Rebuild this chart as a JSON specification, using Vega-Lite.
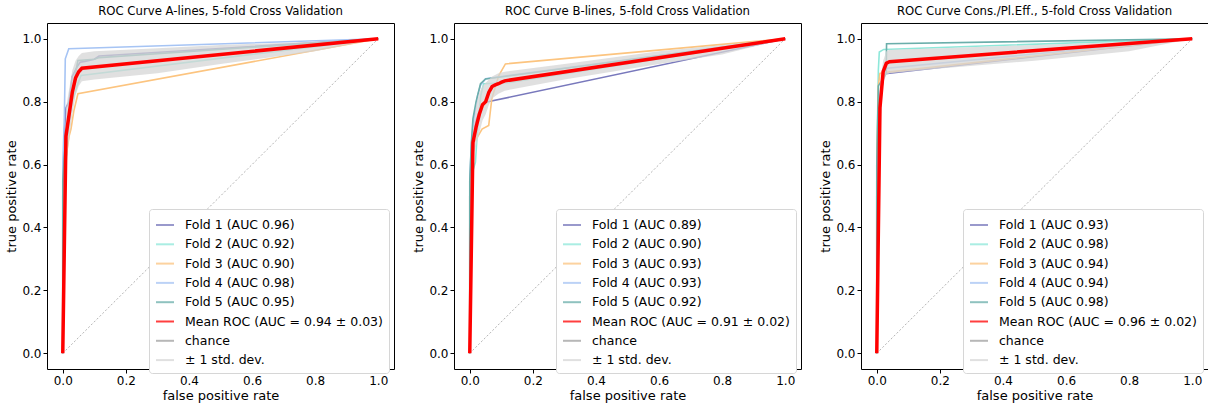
{
  "$schema": "https://vega.github.io/schema/vega-lite/v6.json",
  "config": {
    "font": "DejaVu Sans",
    "view": {"stroke": "black", "strokeWidth": 1},
    "title": {"fontSize": 11.7, "fontWeight": "normal", "color": "black", "offset": 5},
    "axis": {"grid": false, "domain": false, "tickColor": "black", "tickSize": 4, "labelFontSize": 12, "labelColor": "black", "titleFontSize": 13, "titleFontWeight": "normal", "titleColor": "black", "labelPadding": 2, "titlePadding": 3},
    "legend": {"orient": "none", "legendX": 102, "legendY": 186, "fillColor": "white", "strokeColor": "#d6d6d6", "cornerRadius": 3, "padding": 6, "labelFontSize": 12.5, "labelColor": "black", "labelLimit": 400, "rowPadding": 2.3, "symbolType": "stroke", "symbolSize": 324, "symbolStrokeWidth": 2, "labelOffset": 10}
  },
  "datasets": {
    "a_lines": [
      {"series": "Fold 1 (AUC 0.96)", "fpr": 0, "tpr": 0}, {"series": "Fold 1 (AUC 0.96)", "fpr": 0, "tpr": 0.5}, {"series": "Fold 1 (AUC 0.96)", "fpr": 0.005, "tpr": 0.7}, {"series": "Fold 1 (AUC 0.96)", "fpr": 0.01, "tpr": 0.78}, {"series": "Fold 1 (AUC 0.96)", "fpr": 0.02, "tpr": 0.8}, {"series": "Fold 1 (AUC 0.96)", "fpr": 0.03, "tpr": 0.88}, {"series": "Fold 1 (AUC 0.96)", "fpr": 0.045, "tpr": 0.91}, {"series": "Fold 1 (AUC 0.96)", "fpr": 0.055, "tpr": 0.925}, {"series": "Fold 1 (AUC 0.96)", "fpr": 0.07, "tpr": 0.928}, {"series": "Fold 1 (AUC 0.96)", "fpr": 0.1, "tpr": 0.935}, {"series": "Fold 1 (AUC 0.96)", "fpr": 0.115, "tpr": 0.945}, {"series": "Fold 1 (AUC 0.96)", "fpr": 1, "tpr": 1},
      {"series": "Fold 2 (AUC 0.92)", "fpr": 0, "tpr": 0}, {"series": "Fold 2 (AUC 0.92)", "fpr": 0, "tpr": 0.45}, {"series": "Fold 2 (AUC 0.92)", "fpr": 0.01, "tpr": 0.6}, {"series": "Fold 2 (AUC 0.92)", "fpr": 0.02, "tpr": 0.74}, {"series": "Fold 2 (AUC 0.92)", "fpr": 0.03, "tpr": 0.8}, {"series": "Fold 2 (AUC 0.92)", "fpr": 0.045, "tpr": 0.85}, {"series": "Fold 2 (AUC 0.92)", "fpr": 0.058, "tpr": 0.883}, {"series": "Fold 2 (AUC 0.92)", "fpr": 1, "tpr": 1},
      {"series": "Fold 3 (AUC 0.90)", "fpr": 0, "tpr": 0}, {"series": "Fold 3 (AUC 0.90)", "fpr": 0, "tpr": 0.4}, {"series": "Fold 3 (AUC 0.90)", "fpr": 0.01, "tpr": 0.62}, {"series": "Fold 3 (AUC 0.90)", "fpr": 0.02, "tpr": 0.69}, {"series": "Fold 3 (AUC 0.90)", "fpr": 0.026, "tpr": 0.713}, {"series": "Fold 3 (AUC 0.90)", "fpr": 0.035, "tpr": 0.77}, {"series": "Fold 3 (AUC 0.90)", "fpr": 0.048, "tpr": 0.825}, {"series": "Fold 3 (AUC 0.90)", "fpr": 1, "tpr": 1},
      {"series": "Fold 4 (AUC 0.98)", "fpr": 0, "tpr": 0}, {"series": "Fold 4 (AUC 0.98)", "fpr": 0, "tpr": 0.6}, {"series": "Fold 4 (AUC 0.98)", "fpr": 0.005, "tpr": 0.75}, {"series": "Fold 4 (AUC 0.98)", "fpr": 0.008, "tpr": 0.936}, {"series": "Fold 4 (AUC 0.98)", "fpr": 0.019, "tpr": 0.968}, {"series": "Fold 4 (AUC 0.98)", "fpr": 1, "tpr": 1},
      {"series": "Fold 5 (AUC 0.95)", "fpr": 0, "tpr": 0}, {"series": "Fold 5 (AUC 0.95)", "fpr": 0, "tpr": 0.55}, {"series": "Fold 5 (AUC 0.95)", "fpr": 0.01, "tpr": 0.7}, {"series": "Fold 5 (AUC 0.95)", "fpr": 0.02, "tpr": 0.76}, {"series": "Fold 5 (AUC 0.95)", "fpr": 0.035, "tpr": 0.86}, {"series": "Fold 5 (AUC 0.95)", "fpr": 0.048, "tpr": 0.931}, {"series": "Fold 5 (AUC 0.95)", "fpr": 0.1, "tpr": 0.935}, {"series": "Fold 5 (AUC 0.95)", "fpr": 0.116, "tpr": 0.94}, {"series": "Fold 5 (AUC 0.95)", "fpr": 1, "tpr": 1},
      {"series": "Mean ROC (AUC = 0.94 ± 0.03)", "fpr": 0, "tpr": 0}, {"series": "Mean ROC (AUC = 0.94 ± 0.03)", "fpr": 0.0101, "tpr": 0.69}, {"series": "Mean ROC (AUC = 0.94 ± 0.03)", "fpr": 0.0202, "tpr": 0.76}, {"series": "Mean ROC (AUC = 0.94 ± 0.03)", "fpr": 0.0303, "tpr": 0.83}, {"series": "Mean ROC (AUC = 0.94 ± 0.03)", "fpr": 0.0404, "tpr": 0.875}, {"series": "Mean ROC (AUC = 0.94 ± 0.03)", "fpr": 0.0505, "tpr": 0.895}, {"series": "Mean ROC (AUC = 0.94 ± 0.03)", "fpr": 0.0606, "tpr": 0.906}, {"series": "Mean ROC (AUC = 0.94 ± 0.03)", "fpr": 1, "tpr": 1},
      {"series": "chance", "fpr": 0, "tpr": 0}, {"series": "chance", "fpr": 1, "tpr": 1}
    ],
    "a_band": [
      {"series": "± 1 std. dev.", "fpr": 0, "lo": 0, "hi": 0}, {"series": "± 1 std. dev.", "fpr": 0.0101, "lo": 0.6, "hi": 0.78}, {"series": "± 1 std. dev.", "fpr": 0.0202, "lo": 0.68, "hi": 0.84}, {"series": "± 1 std. dev.", "fpr": 0.0303, "lo": 0.76, "hi": 0.9}, {"series": "± 1 std. dev.", "fpr": 0.0404, "lo": 0.82, "hi": 0.93}, {"series": "± 1 std. dev.", "fpr": 0.0505, "lo": 0.85, "hi": 0.945}, {"series": "± 1 std. dev.", "fpr": 0.0606, "lo": 0.865, "hi": 0.955}, {"series": "± 1 std. dev.", "fpr": 0.1, "lo": 0.87, "hi": 0.96}, {"series": "± 1 std. dev.", "fpr": 0.3, "lo": 0.89, "hi": 0.97}, {"series": "± 1 std. dev.", "fpr": 0.5, "lo": 0.92, "hi": 0.98}, {"series": "± 1 std. dev.", "fpr": 0.8, "lo": 0.96, "hi": 0.99}, {"series": "± 1 std. dev.", "fpr": 1, "lo": 1, "hi": 1}
    ],
    "b_lines": [
      {"series": "Fold 1 (AUC 0.89)", "fpr": 0, "tpr": 0}, {"series": "Fold 1 (AUC 0.89)", "fpr": 0, "tpr": 0.5}, {"series": "Fold 1 (AUC 0.89)", "fpr": 0.005, "tpr": 0.63}, {"series": "Fold 1 (AUC 0.89)", "fpr": 0.01, "tpr": 0.68}, {"series": "Fold 1 (AUC 0.89)", "fpr": 0.02, "tpr": 0.74}, {"series": "Fold 1 (AUC 0.89)", "fpr": 0.035, "tpr": 0.785}, {"series": "Fold 1 (AUC 0.89)", "fpr": 0.05, "tpr": 0.798}, {"series": "Fold 1 (AUC 0.89)", "fpr": 1, "tpr": 1},
      {"series": "Fold 2 (AUC 0.90)", "fpr": 0, "tpr": 0}, {"series": "Fold 2 (AUC 0.90)", "fpr": 0, "tpr": 0.4}, {"series": "Fold 2 (AUC 0.90)", "fpr": 0.01, "tpr": 0.58}, {"series": "Fold 2 (AUC 0.90)", "fpr": 0.018, "tpr": 0.608}, {"series": "Fold 2 (AUC 0.90)", "fpr": 0.025, "tpr": 0.72}, {"series": "Fold 2 (AUC 0.90)", "fpr": 0.035, "tpr": 0.82}, {"series": "Fold 2 (AUC 0.90)", "fpr": 0.044, "tpr": 0.857}, {"series": "Fold 2 (AUC 0.90)", "fpr": 0.12, "tpr": 0.86}, {"series": "Fold 2 (AUC 0.90)", "fpr": 1, "tpr": 1},
      {"series": "Fold 3 (AUC 0.93)", "fpr": 0, "tpr": 0}, {"series": "Fold 3 (AUC 0.93)", "fpr": 0, "tpr": 0.5}, {"series": "Fold 3 (AUC 0.93)", "fpr": 0.007, "tpr": 0.66}, {"series": "Fold 3 (AUC 0.93)", "fpr": 0.02, "tpr": 0.68}, {"series": "Fold 3 (AUC 0.93)", "fpr": 0.039, "tpr": 0.713}, {"series": "Fold 3 (AUC 0.93)", "fpr": 0.06, "tpr": 0.724}, {"series": "Fold 3 (AUC 0.93)", "fpr": 0.07, "tpr": 0.81}, {"series": "Fold 3 (AUC 0.93)", "fpr": 0.092, "tpr": 0.883}, {"series": "Fold 3 (AUC 0.93)", "fpr": 0.113, "tpr": 0.92}, {"series": "Fold 3 (AUC 0.93)", "fpr": 1, "tpr": 1},
      {"series": "Fold 4 (AUC 0.93)", "fpr": 0, "tpr": 0}, {"series": "Fold 4 (AUC 0.93)", "fpr": 0, "tpr": 0.55}, {"series": "Fold 4 (AUC 0.93)", "fpr": 0.005, "tpr": 0.66}, {"series": "Fold 4 (AUC 0.93)", "fpr": 0.013, "tpr": 0.745}, {"series": "Fold 4 (AUC 0.93)", "fpr": 0.025, "tpr": 0.82}, {"series": "Fold 4 (AUC 0.93)", "fpr": 0.034, "tpr": 0.852}, {"series": "Fold 4 (AUC 0.93)", "fpr": 0.05, "tpr": 0.873}, {"series": "Fold 4 (AUC 0.93)", "fpr": 1, "tpr": 1},
      {"series": "Fold 5 (AUC 0.92)", "fpr": 0, "tpr": 0}, {"series": "Fold 5 (AUC 0.92)", "fpr": 0, "tpr": 0.55}, {"series": "Fold 5 (AUC 0.92)", "fpr": 0.005, "tpr": 0.67}, {"series": "Fold 5 (AUC 0.92)", "fpr": 0.01, "tpr": 0.745}, {"series": "Fold 5 (AUC 0.92)", "fpr": 0.02, "tpr": 0.8}, {"series": "Fold 5 (AUC 0.92)", "fpr": 0.034, "tpr": 0.857}, {"series": "Fold 5 (AUC 0.92)", "fpr": 0.05, "tpr": 0.872}, {"series": "Fold 5 (AUC 0.92)", "fpr": 1, "tpr": 1},
      {"series": "Mean ROC (AUC = 0.91 ± 0.02)", "fpr": 0, "tpr": 0}, {"series": "Mean ROC (AUC = 0.91 ± 0.02)", "fpr": 0.0101, "tpr": 0.67}, {"series": "Mean ROC (AUC = 0.91 ± 0.02)", "fpr": 0.0202, "tpr": 0.72}, {"series": "Mean ROC (AUC = 0.91 ± 0.02)", "fpr": 0.0303, "tpr": 0.76}, {"series": "Mean ROC (AUC = 0.91 ± 0.02)", "fpr": 0.0404, "tpr": 0.79}, {"series": "Mean ROC (AUC = 0.91 ± 0.02)", "fpr": 0.0505, "tpr": 0.8}, {"series": "Mean ROC (AUC = 0.91 ± 0.02)", "fpr": 0.0606, "tpr": 0.83}, {"series": "Mean ROC (AUC = 0.91 ± 0.02)", "fpr": 0.0707, "tpr": 0.848}, {"series": "Mean ROC (AUC = 0.91 ± 0.02)", "fpr": 0.0808, "tpr": 0.853}, {"series": "Mean ROC (AUC = 0.91 ± 0.02)", "fpr": 0.0909, "tpr": 0.857}, {"series": "Mean ROC (AUC = 0.91 ± 0.02)", "fpr": 0.101, "tpr": 0.862}, {"series": "Mean ROC (AUC = 0.91 ± 0.02)", "fpr": 0.111, "tpr": 0.866}, {"series": "Mean ROC (AUC = 0.91 ± 0.02)", "fpr": 1, "tpr": 1},
      {"series": "chance", "fpr": 0, "tpr": 0}, {"series": "chance", "fpr": 1, "tpr": 1}
    ],
    "b_band": [
      {"series": "± 1 std. dev.", "fpr": 0, "lo": 0, "hi": 0}, {"series": "± 1 std. dev.", "fpr": 0.0101, "lo": 0.63, "hi": 0.71}, {"series": "± 1 std. dev.", "fpr": 0.0202, "lo": 0.66, "hi": 0.79}, {"series": "± 1 std. dev.", "fpr": 0.0303, "lo": 0.7, "hi": 0.83}, {"series": "± 1 std. dev.", "fpr": 0.0404, "lo": 0.74, "hi": 0.85}, {"series": "± 1 std. dev.", "fpr": 0.0505, "lo": 0.76, "hi": 0.86}, {"series": "± 1 std. dev.", "fpr": 0.0606, "lo": 0.79, "hi": 0.87}, {"series": "± 1 std. dev.", "fpr": 0.0707, "lo": 0.81, "hi": 0.88}, {"series": "± 1 std. dev.", "fpr": 0.0909, "lo": 0.825, "hi": 0.89}, {"series": "± 1 std. dev.", "fpr": 0.111, "lo": 0.835, "hi": 0.895}, {"series": "± 1 std. dev.", "fpr": 0.3, "lo": 0.87, "hi": 0.92}, {"series": "± 1 std. dev.", "fpr": 0.6, "lo": 0.92, "hi": 0.96}, {"series": "± 1 std. dev.", "fpr": 0.8, "lo": 0.95, "hi": 0.98}, {"series": "± 1 std. dev.", "fpr": 1, "lo": 1, "hi": 1}
    ],
    "c_lines": [
      {"series": "Fold 1 (AUC 0.93)", "fpr": 0, "tpr": 0}, {"series": "Fold 1 (AUC 0.93)", "fpr": 0, "tpr": 0.5}, {"series": "Fold 1 (AUC 0.93)", "fpr": 0.01, "tpr": 0.8}, {"series": "Fold 1 (AUC 0.93)", "fpr": 0.02, "tpr": 0.87}, {"series": "Fold 1 (AUC 0.93)", "fpr": 0.027, "tpr": 0.889}, {"series": "Fold 1 (AUC 0.93)", "fpr": 1, "tpr": 1},
      {"series": "Fold 2 (AUC 0.98)", "fpr": 0, "tpr": 0}, {"series": "Fold 2 (AUC 0.98)", "fpr": 0, "tpr": 0.6}, {"series": "Fold 2 (AUC 0.98)", "fpr": 0.005, "tpr": 0.9}, {"series": "Fold 2 (AUC 0.98)", "fpr": 0.008, "tpr": 0.958}, {"series": "Fold 2 (AUC 0.98)", "fpr": 0.022, "tpr": 0.966}, {"series": "Fold 2 (AUC 0.98)", "fpr": 1, "tpr": 1},
      {"series": "Fold 3 (AUC 0.94)", "fpr": 0, "tpr": 0}, {"series": "Fold 3 (AUC 0.94)", "fpr": 0, "tpr": 0.55}, {"series": "Fold 3 (AUC 0.94)", "fpr": 0.005, "tpr": 0.85}, {"series": "Fold 3 (AUC 0.94)", "fpr": 0.01, "tpr": 0.89}, {"series": "Fold 3 (AUC 0.94)", "fpr": 0.027, "tpr": 0.893}, {"series": "Fold 3 (AUC 0.94)", "fpr": 1, "tpr": 1},
      {"series": "Fold 4 (AUC 0.94)", "fpr": 0, "tpr": 0}, {"series": "Fold 4 (AUC 0.94)", "fpr": 0, "tpr": 0.55}, {"series": "Fold 4 (AUC 0.94)", "fpr": 0.01, "tpr": 0.82}, {"series": "Fold 4 (AUC 0.94)", "fpr": 0.02, "tpr": 0.89}, {"series": "Fold 4 (AUC 0.94)", "fpr": 0.033, "tpr": 0.906}, {"series": "Fold 4 (AUC 0.94)", "fpr": 1, "tpr": 1},
      {"series": "Fold 5 (AUC 0.98)", "fpr": 0, "tpr": 0}, {"series": "Fold 5 (AUC 0.98)", "fpr": 0, "tpr": 0.6}, {"series": "Fold 5 (AUC 0.98)", "fpr": 0.005, "tpr": 0.85}, {"series": "Fold 5 (AUC 0.98)", "fpr": 0.03, "tpr": 0.89}, {"series": "Fold 5 (AUC 0.98)", "fpr": 0.031, "tpr": 0.984}, {"series": "Fold 5 (AUC 0.98)", "fpr": 1, "tpr": 1},
      {"series": "Mean ROC (AUC = 0.96 ± 0.02)", "fpr": 0, "tpr": 0}, {"series": "Mean ROC (AUC = 0.96 ± 0.02)", "fpr": 0.0101, "tpr": 0.78}, {"series": "Mean ROC (AUC = 0.96 ± 0.02)", "fpr": 0.0202, "tpr": 0.895}, {"series": "Mean ROC (AUC = 0.96 ± 0.02)", "fpr": 0.0303, "tpr": 0.922}, {"series": "Mean ROC (AUC = 0.96 ± 0.02)", "fpr": 0.0404, "tpr": 0.927}, {"series": "Mean ROC (AUC = 0.96 ± 0.02)", "fpr": 1, "tpr": 1},
      {"series": "chance", "fpr": 0, "tpr": 0}, {"series": "chance", "fpr": 1, "tpr": 1}
    ],
    "c_band": [
      {"series": "± 1 std. dev.", "fpr": 0, "lo": 0, "hi": 0}, {"series": "± 1 std. dev.", "fpr": 0.0101, "lo": 0.7, "hi": 0.86}, {"series": "± 1 std. dev.", "fpr": 0.0202, "lo": 0.86, "hi": 0.93}, {"series": "± 1 std. dev.", "fpr": 0.0303, "lo": 0.885, "hi": 0.96}, {"series": "± 1 std. dev.", "fpr": 0.0404, "lo": 0.89, "hi": 0.965}, {"series": "± 1 std. dev.", "fpr": 0.2, "lo": 0.905, "hi": 0.97}, {"series": "± 1 std. dev.", "fpr": 0.5, "lo": 0.93, "hi": 0.98}, {"series": "± 1 std. dev.", "fpr": 0.8, "lo": 0.96, "hi": 0.99}, {"series": "± 1 std. dev.", "fpr": 1, "lo": 1, "hi": 1}
    ]
  },
  "hconcat": [
    {
      "title": "ROC Curve A-lines, 5-fold Cross Validation",
      "width": 347, "height": 346,
      "layer": [
        {"data": {"name": "a_lines"}, "transform": [{"filter": "indexof(datum.series,'Fold')===0"}], "mark": {"type": "line", "strokeWidth": 1.6},
         "encoding": {
           "x": {"field": "fpr", "type": "quantitative", "scale": {"domain": [-0.05, 1.05], "nice": false, "zero": false}, "axis": {"values": [0, 0.2, 0.4, 0.6, 0.8, 1.0], "format": ".1f", "title": "false positive rate"}},
           "y": {"field": "tpr", "type": "quantitative", "scale": {"domain": [-0.05, 1.05], "nice": false, "zero": false}, "axis": {"values": [0, 0.2, 0.4, 0.6, 0.8, 1.0], "format": ".1f", "title": "true positive rate"}},
           "color": {"field": "series", "type": "nominal", "title": null,
             "scale": {"domain": ["Fold 1 (AUC 0.96)", "Fold 2 (AUC 0.92)", "Fold 3 (AUC 0.90)", "Fold 4 (AUC 0.98)", "Fold 5 (AUC 0.95)", "Mean ROC (AUC = 0.94 ± 0.03)", "chance", "± 1 std. dev."],
                       "range": ["#7878bc", "#8ee8da", "#fcc47f", "#a6c4f4", "#6aaeaa", "#ff0000", "#a0a0a0", "#d6d6d6"]}
           }}},
        {"data": {"name": "a_lines"}, "transform": [{"filter": "datum.series==='chance'"}], "mark": {"type": "line", "strokeWidth": 0.8, "strokeDash": [2, 2]},
         "encoding": {"x": {"field": "fpr", "type": "quantitative"}, "y": {"field": "tpr", "type": "quantitative"}, "color": {"field": "series", "type": "nominal"}}},
        {"data": {"name": "a_band"}, "mark": {"type": "area", "opacity": 0.75},
         "encoding": {"x": {"field": "fpr", "type": "quantitative"}, "y": {"field": "lo", "type": "quantitative"}, "y2": {"field": "hi"}, "color": {"field": "series", "type": "nominal"}}},
        {"data": {"name": "a_lines"}, "transform": [{"filter": "indexof(datum.series,'Mean')===0"}], "mark": {"type": "line", "strokeWidth": 3.5},
         "encoding": {"x": {"field": "fpr", "type": "quantitative"}, "y": {"field": "tpr", "type": "quantitative"}, "color": {"field": "series", "type": "nominal"}}}
      ]
    },
    {
      "title": "ROC Curve B-lines, 5-fold Cross Validation",
      "width": 347, "height": 346,
      "layer": [
        {"data": {"name": "b_lines"}, "transform": [{"filter": "indexof(datum.series,'Fold')===0"}], "mark": {"type": "line", "strokeWidth": 1.6},
         "encoding": {
           "x": {"field": "fpr", "type": "quantitative", "scale": {"domain": [-0.05, 1.05], "nice": false, "zero": false}, "axis": {"values": [0, 0.2, 0.4, 0.6, 0.8, 1.0], "format": ".1f", "title": "false positive rate"}},
           "y": {"field": "tpr", "type": "quantitative", "scale": {"domain": [-0.05, 1.05], "nice": false, "zero": false}, "axis": {"values": [0, 0.2, 0.4, 0.6, 0.8, 1.0], "format": ".1f", "title": "true positive rate"}},
           "color": {"field": "series", "type": "nominal", "title": null,
             "scale": {"domain": ["Fold 1 (AUC 0.89)", "Fold 2 (AUC 0.90)", "Fold 3 (AUC 0.93)", "Fold 4 (AUC 0.93)", "Fold 5 (AUC 0.92)", "Mean ROC (AUC = 0.91 ± 0.02)", "chance", "± 1 std. dev."],
                       "range": ["#7878bc", "#8ee8da", "#fcc47f", "#a6c4f4", "#6aaeaa", "#ff0000", "#a0a0a0", "#d6d6d6"]}
           }}},
        {"data": {"name": "b_lines"}, "transform": [{"filter": "datum.series==='chance'"}], "mark": {"type": "line", "strokeWidth": 0.8, "strokeDash": [2, 2]},
         "encoding": {"x": {"field": "fpr", "type": "quantitative"}, "y": {"field": "tpr", "type": "quantitative"}, "color": {"field": "series", "type": "nominal"}}},
        {"data": {"name": "b_band"}, "mark": {"type": "area", "opacity": 0.75},
         "encoding": {"x": {"field": "fpr", "type": "quantitative"}, "y": {"field": "lo", "type": "quantitative"}, "y2": {"field": "hi"}, "color": {"field": "series", "type": "nominal"}}},
        {"data": {"name": "b_lines"}, "transform": [{"filter": "indexof(datum.series,'Mean')===0"}], "mark": {"type": "line", "strokeWidth": 3.5},
         "encoding": {"x": {"field": "fpr", "type": "quantitative"}, "y": {"field": "tpr", "type": "quantitative"}, "color": {"field": "series", "type": "nominal"}}}
      ]
    },
    {
      "title": "ROC Curve Cons./Pl.Eff., 5-fold Cross Validation",
      "width": 347, "height": 346,
      "layer": [
        {"data": {"name": "c_lines"}, "transform": [{"filter": "indexof(datum.series,'Fold')===0"}], "mark": {"type": "line", "strokeWidth": 1.6},
         "encoding": {
           "x": {"field": "fpr", "type": "quantitative", "scale": {"domain": [-0.05, 1.05], "nice": false, "zero": false}, "axis": {"values": [0, 0.2, 0.4, 0.6, 0.8, 1.0], "format": ".1f", "title": "false positive rate"}},
           "y": {"field": "tpr", "type": "quantitative", "scale": {"domain": [-0.05, 1.05], "nice": false, "zero": false}, "axis": {"values": [0, 0.2, 0.4, 0.6, 0.8, 1.0], "format": ".1f", "title": "true positive rate"}},
           "color": {"field": "series", "type": "nominal", "title": null,
             "scale": {"domain": ["Fold 1 (AUC 0.93)", "Fold 2 (AUC 0.98)", "Fold 3 (AUC 0.94)", "Fold 4 (AUC 0.94)", "Fold 5 (AUC 0.98)", "Mean ROC (AUC = 0.96 ± 0.02)", "chance", "± 1 std. dev."],
                       "range": ["#7878bc", "#8ee8da", "#fcc47f", "#a6c4f4", "#6aaeaa", "#ff0000", "#a0a0a0", "#d6d6d6"]}
           }}},
        {"data": {"name": "c_lines"}, "transform": [{"filter": "datum.series==='chance'"}], "mark": {"type": "line", "strokeWidth": 0.8, "strokeDash": [2, 2]},
         "encoding": {"x": {"field": "fpr", "type": "quantitative"}, "y": {"field": "tpr", "type": "quantitative"}, "color": {"field": "series", "type": "nominal"}}},
        {"data": {"name": "c_band"}, "mark": {"type": "area", "opacity": 0.75},
         "encoding": {"x": {"field": "fpr", "type": "quantitative"}, "y": {"field": "lo", "type": "quantitative"}, "y2": {"field": "hi"}, "color": {"field": "series", "type": "nominal"}}},
        {"data": {"name": "c_lines"}, "transform": [{"filter": "indexof(datum.series,'Mean')===0"}], "mark": {"type": "line", "strokeWidth": 3.5},
         "encoding": {"x": {"field": "fpr", "type": "quantitative"}, "y": {"field": "tpr", "type": "quantitative"}, "color": {"field": "series", "type": "nominal"}}}
      ]
    }
  ],
  "spacing": 17,
  "resolve": {"scale": {"color": "independent"}}
}
